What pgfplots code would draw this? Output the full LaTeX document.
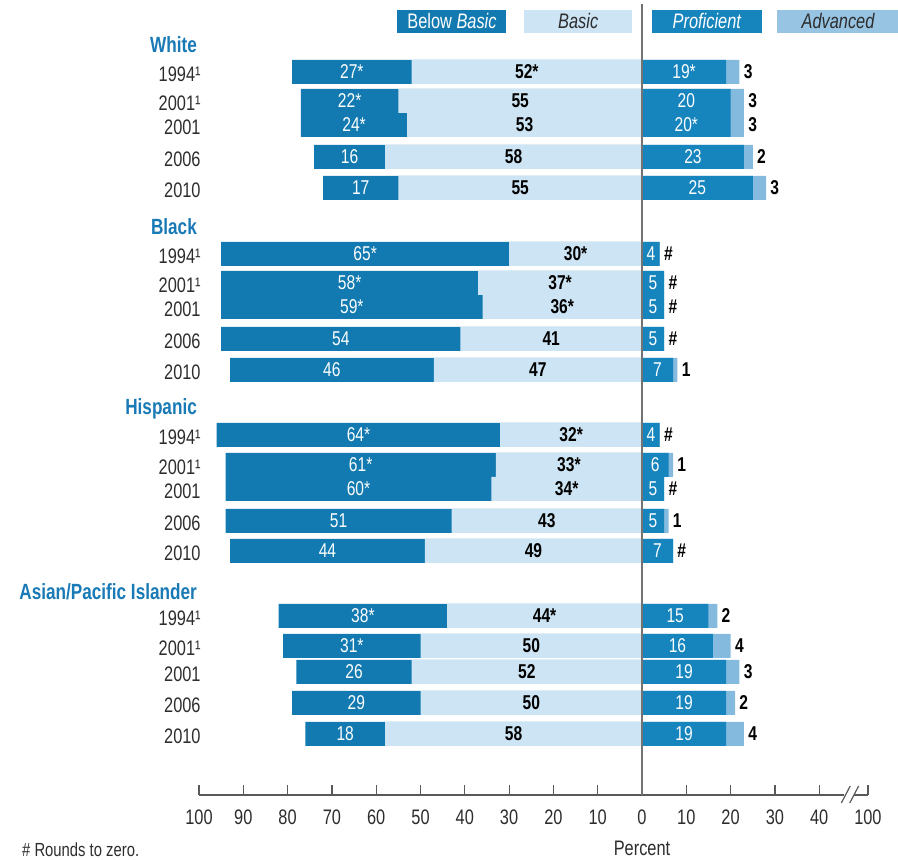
\documentclass[border=0pt]{standalone}
\usepackage{fontspec}
\setmainfont{Liberation Sans}[FakeStretch=0.78]
\usepackage{pgfplots}
\usepackage{pgfplotstable}
\pgfplotsset{compat=1.18}
\definecolor{bbcol}{RGB}{18,122,176}
\definecolor{bcol}{RGB}{204,228,243}
\definecolor{pcol}{RGB}{22,132,189}
\definecolor{acol}{RGB}{132,186,222}
\definecolor{legacol}{RGB}{150,196,226}
\definecolor{hdr}{RGB}{25,122,182}
\definecolor{txt}{RGB}{45,45,45}

% y = vertical position of the bar (pixels from top, negative)
\pgfplotstableread{
y    BB B  P  A lBB lB  lP  lA yr
-72  27 52 19 3 27* 52* 19* 3  1994¹
-101 22 55 20 3 22* 55  20  3  2001¹
-125 24 53 20 3 24* 53  20* 3  2001
-157 16 58 23 2 16  58  23  2  2006
-188 17 55 25 3 17  55  25  3  2010
-254 65 30 4  0 65* 30* 4   \# 1994¹
-283 58 37 5  0 58* 37* 5   \# 2001¹
-307 59 36 5  0 59* 36* 5   \# 2001
-339 54 41 5  0 54  41  5   \# 2006
-370 46 47 7  1 46  47  7   1  2010
-435 64 32 4  0 64* 32* 4   \# 1994¹
-465 61 33 6  1 61* 33* 6   1  2001¹
-489 60 34 5  0 60* 34* 5   \# 2001
-521 51 43 5  1 51  43  5   1  2006
-551 44 49 7  0 44  49  7   \# 2010
-616 38 44 15 2 38* 44* 15  2  1994¹
-646 31 50 16 4 31* 50  16  4  2001¹
-672 26 52 19 3 26  52  19  3  2001
-703 29 50 19 2 29  50  19  2  2006
-734 18 58 19 4 18  58  19  4  2010
}\data

\begin{document}
\begin{tikzpicture}
\path[use as bounding box] (-99.5pt,-32.5pt) rectangle (349.5pt,397.5pt);
\begin{axis}[
  x=2.215pt, y=0.5pt,
  xmin=-100, xmax=51, ymin=-795, ymax=0,
  enlargelimits=false, clip=false,
  axis x line*=bottom, axis y line=none,
  x axis line style={draw=black!65, line width=0.8pt},
  xtick={-100,-90,-80,-70,-60,-50,-40,-30,-20,-10,0,10,20,30,40,51},
  xticklabels={100,90,80,70,60,50,40,30,20,10,0,10,20,30,40,100},
  tick align=inside, major tick length=5pt,
  xtick style={draw=black!65, line width=0.6pt},
  xticklabel style={font=\fontsize{10.5}{12}\selectfont, text=txt, yshift=-4pt},
  ytick=\empty,
  /pgf/number format/assume math mode=true,
  every axis plot/.append style={bar width=24, bar shift=0pt},
]
\addplot[xbar, draw=none, fill=bbcol] table[x expr={-(\thisrow{BB}+\thisrow{B})}, y=y]{\data};
\addplot[xbar, draw=none, fill=bcol] table[x expr={-\thisrow{B}}, y=y]{\data};
\addplot[xbar, draw=none, fill=acol] table[x expr={\thisrow{P}+\thisrow{A}}, y=y]{\data};
\addplot[xbar, draw=none, fill=pcol] table[x=P, y=y]{\data};

% value labels
\addplot[draw=none, nodes near coords, point meta=explicit symbolic,
  nodes near coords style={anchor=center, inner sep=0pt, text=white!92!bcol, font=\fontsize{10}{12}\selectfont}]
  table[x expr={-(\thisrow{B}+0.5*\thisrow{BB})}, y=y, meta=lBB]{\data};
\addplot[draw=none, nodes near coords, point meta=explicit symbolic,
  nodes near coords style={anchor=center, inner sep=0pt, text=black, font=\bfseries\fontsize{10}{12}\selectfont}]
  table[x expr={-0.5*\thisrow{B}}, y=y, meta=lB]{\data};
\addplot[draw=none, nodes near coords, point meta=explicit symbolic,
  nodes near coords style={anchor=center, inner sep=0pt, text=white!92!bcol, font=\fontsize{10}{12}\selectfont}]
  table[x expr={0.5*\thisrow{P}}, y=y, meta=lP]{\data};
\addplot[draw=none, nodes near coords, point meta=explicit symbolic,
  nodes near coords style={anchor=west, inner sep=0pt, xshift=2pt, text=black, font=\bfseries\fontsize{10}{12}\selectfont}]
  table[x expr={\thisrow{P}+\thisrow{A}}, y=y, meta=lA]{\data};
% year labels
\addplot[draw=none, nodes near coords, point meta=explicit symbolic,
  nodes near coords style={anchor=east, inner sep=0pt, xshift=1pt, yshift=-1pt, text=txt, font=\fontsize{10.5}{12}\selectfont}]
  table[x expr={-100}, y=y, meta=yr]{\data};

% zero line
\draw[black!55, line width=1pt] (axis cs:0,-4) -- (axis cs:0,-795);
% axis break
\fill[white] (axis cs:45.6,-799) rectangle (axis cs:47.8,-791);
\draw[black!65, line width=0.6pt] (axis cs:45.0,-803) -- (axis cs:47.0,-786);
\draw[black!65, line width=0.6pt] (axis cs:46.9,-803) -- (axis cs:48.9,-786);

% group headers
\begin{scope}[every node/.style={anchor=east, inner sep=0pt, text=hdr, font=\bfseries\fontsize{11}{13}\selectfont}]
\node at (axis cs:-100.4,-45) {White};
\node at (axis cs:-100.4,-227) {Black};
\node at (axis cs:-100.4,-409) {Hispanic};
\node at (axis cs:-100.4,-592) {Asian/Pacific Islander};
\end{scope}

% legend
\begin{scope}[every node/.style={inner sep=0pt, minimum height=11.5pt, font=\fontsize{10.5}{12}\selectfont}]
\node[fill=bbcol, minimum width=54.5pt, text=white] at (axis cs:-42.9,-21.5) {Below \textit{Basic}};
\node[fill=bcol, minimum width=54pt, text=txt] at (axis cs:-14.4,-21.5) {\textit{Basic}};
\node[fill=pcol, minimum width=55pt, text=white] at (axis cs:14.7,-21.5) {\textit{Proficient}};
\node[fill=legacol, minimum width=61pt, text=txt] at (axis cs:44.3,-21.5) {\textit{Advanced}};
\end{scope}

% axis title and note
\node[text=txt, font=\fontsize{10.5}{12}\selectfont] at (axis cs:0,-848) {Percent};
\node[anchor=north west, inner sep=0pt, text=txt, font=\fontsize{9.5}{11}\selectfont] at (axis cs:-140,-842) {\# Rounds to zero.};
\end{axis}
\end{tikzpicture}
\end{document}
